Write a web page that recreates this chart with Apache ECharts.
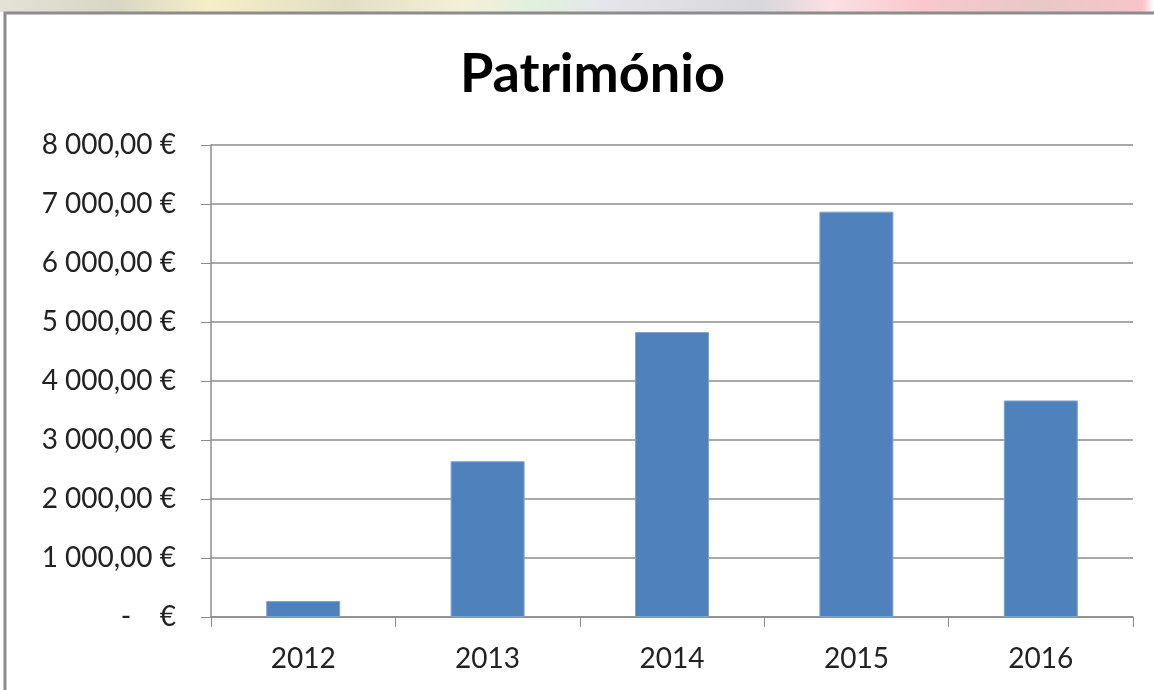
<!DOCTYPE html>
<html>
<head>
    <meta charset="utf-8">
    <title>Património</title>
    <script src="https://cdn.jsdelivr.net/npm/echarts@6/dist/echarts.min.js"></script>
    <style>
        html, body {margin:0;padding:0;background:#fff}
        #chart {width:1154px;height:690px}
    </style>
</head>
<body>
<div id="chart"></div>
<script>
    var anos = ['2012', '2013', '2014', '2015', '2016'];
    var patrimonio = [270, 2640, 4830, 6870, 3670];
    var yMax = 8000;
    var yStep = 1000;

    function euro(v) {
        if (v === 0) return '-    €';
        var s = Math.round(v).toString().replace(/\B(?=(\d{3})+(?!\d))/g, ' ');
        return s + ',00 €';
    }

    var chart = echarts.init(document.getElementById('chart'));
    var option = {
        animation: false,
        backgroundColor: '#fff',
        title: {
            text: 'Património',
            left: 455,
            top: 43,
            textStyle: {fontFamily: 'Lato', fontWeight: 'bold', fontSize: 54, color: '#000'}
        },
        // moldura e faixa de fundo no topo
        graphic: [
            {
                type: 'rect', silent: true,
                shape: {x: 0, y: 0, width: 1154, height: 12},
                style: {
                    fill: new echarts.graphic.LinearGradient(0, 0, 1, 0, [
                        {offset: 0, color: '#e4e2d6'},
                        {offset: 0.1, color: '#d8d6c4'},
                        {offset: 0.18, color: '#f4efc6'},
                        {offset: 0.3, color: '#e2dfc4'},
                        {offset: 0.4, color: '#f4f0d8'},
                        {offset: 0.47, color: '#e0f0e0'},
                        {offset: 0.52, color: '#e6e6ea'},
                        {offset: 0.66, color: '#d8d8dc'},
                        {offset: 0.72, color: '#fbe0e4'},
                        {offset: 0.8, color: '#f9c8ce'},
                        {offset: 0.9, color: '#e8c8c8'},
                        {offset: 0.99, color: '#f7c4ca'},
                        {offset: 1, color: '#ffffff'}
                    ])
                }
            },
            {
                type: 'polyline', silent: true,
                shape: {points: [[5, 690], [5, 13], [1154, 13]]},
                style: {stroke: '#8c8c8c', lineWidth: 3, fill: null}
            }
        ],
        grid: {left: 211, right: 21, top: 145, bottom: 73},
        xAxis: {
            type: 'category',
            data: anos,
            axisLine: {lineStyle: {color: '#8c8c8c', width: 1.5}},
            axisTick: {show: true, length: 10, lineStyle: {color: '#8c8c8c'}},
            axisLabel: {margin: 28, fontFamily: 'Lato', fontSize: 28, color: '#222'}
        },
        yAxis: {
            type: 'value',
            min: 0,
            max: yMax,
            interval: yStep,
            axisLine: {show: true, lineStyle: {color: '#8c8c8c', width: 1.5}},
            axisTick: {show: true, length: 10, lineStyle: {color: '#8c8c8c'}},
            splitLine: {lineStyle: {color: '#8c8c8c', width: 1.5}},
            axisLabel: {margin: 35, fontFamily: 'Lato', fontSize: 28, color: '#222', formatter: euro}
        },
        series: [{
            name: 'Património',
            type: 'bar',
            data: patrimonio,
            barWidth: 74,
            itemStyle: {color: '#4f81bd', borderColor: '#7fa3cf', borderWidth: 1}
        }]
    };
    chart.setOption(option);
</script>
</body>
</html>
